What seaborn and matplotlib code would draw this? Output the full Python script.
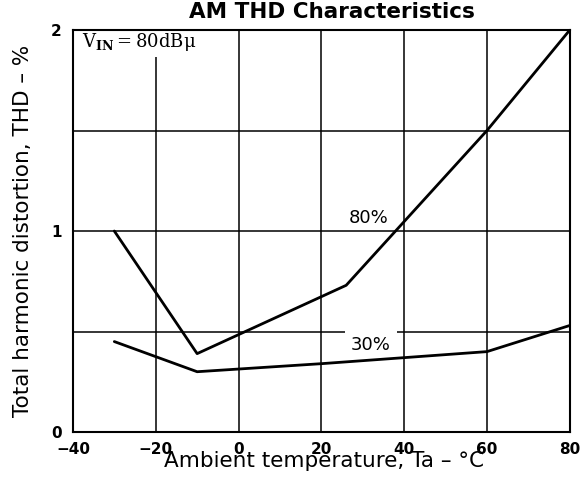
import matplotlib
matplotlib.use("Agg")
import matplotlib.pyplot as plt
import seaborn as sns
import pandas as pd

# Data
temps_80 = [-30, -10, 26, 60, 80]
thd_80 = [1.00, 0.39, 0.73, 1.50, 2.00]
temps_30 = [-30, -10, 20, 60, 80]
thd_30 = [0.45, 0.30, 0.34, 0.40, 0.53]
series_labels = ["80%", "30%"]
x_ticks = [-40, -20, 0, 20, 40, 60, 80]
y_ticks = [0, 1, 2]
y_minor = [0.5, 1.5]

df = pd.concat([
    pd.DataFrame({"Ta": temps_80, "THD": thd_80, "mod": series_labels[0]}),
    pd.DataFrame({"Ta": temps_30, "THD": thd_30, "mod": series_labels[1]}),
])

sns.set_style("white")
plt.rcParams["font.family"] = ["DejaVu Sans"]
plt.rcParams["mathtext.fontset"] = "dejavuserif"
plt.rcParams["text.color"] = "black"
plt.rcParams["axes.labelcolor"] = "black"
plt.rcParams["xtick.color"] = "black"
plt.rcParams["ytick.color"] = "black"
plt.rcParams["axes.titlecolor"] = "black"

fig = plt.figure(figsize=(5.88, 4.82), dpi=100)
ax = fig.add_axes([0.124, 0.1037, 0.845, 0.834])

sns.lineplot(data=df, x="Ta", y="THD", hue="mod", palette=["black", "black"],
             linewidth=2.0, legend=False, ax=ax, zorder=3, sort=False,
             estimator=None)

ax.set_xlim(-40, 80)
ax.set_ylim(0, 2)
ax.set_xticks(x_ticks)
ax.set_yticks(y_ticks)
ax.set_yticks(y_minor, minor=True)
ax.set_xticklabels([str(t).replace("-", "\u2212") for t in x_ticks],
                   fontweight="bold", fontsize=11)
ax.set_yticklabels([str(t) for t in y_ticks], fontweight="bold", fontsize=11)
ax.tick_params(axis="both", which="both", length=0, pad=8)
ax.tick_params(axis="x", pad=7.5)
ax.grid(True, which="both", color="black", linewidth=1.1, zorder=0.5)
ax.set_axisbelow(True)
for s in ax.spines.values():
    s.set_color("black")
    s.set_linewidth(1.5)

ax.set_xlabel("Ambient temperature, Ta \u2013 \u00b0C", fontsize=15.5)
ax.xaxis.set_label_coords(0.506, -0.048)
ax.set_ylabel("Total harmonic distortion, THD \u2013 %", fontsize=15.5)
ax.yaxis.set_label_coords(-0.08, 0.5)
ax.set_title("AM THD Characteristics", fontsize=15.5, fontweight="bold",
             pad=8.5, x=0.521)

ax.text(31.4, 1.067, series_labels[0], fontsize=13, ha="center", va="center",
        zorder=1.5)
ax.text(32, 0.434, series_labels[1], fontsize=13, ha="center", va="center",
        zorder=1.5, bbox=dict(facecolor="white", edgecolor="none", pad=4.5))
ax.text(-37.8, 1.915, "V$_{\\mathbf{IN}}$\u2009=\u200980dB\u03bc",
        family=["DejaVu Serif"], fontsize=13, ha="left", va="baseline",
        zorder=1.5, bbox=dict(facecolor="white", edgecolor="none", pad=3))

fig.savefig("out.png", dpi=100)
